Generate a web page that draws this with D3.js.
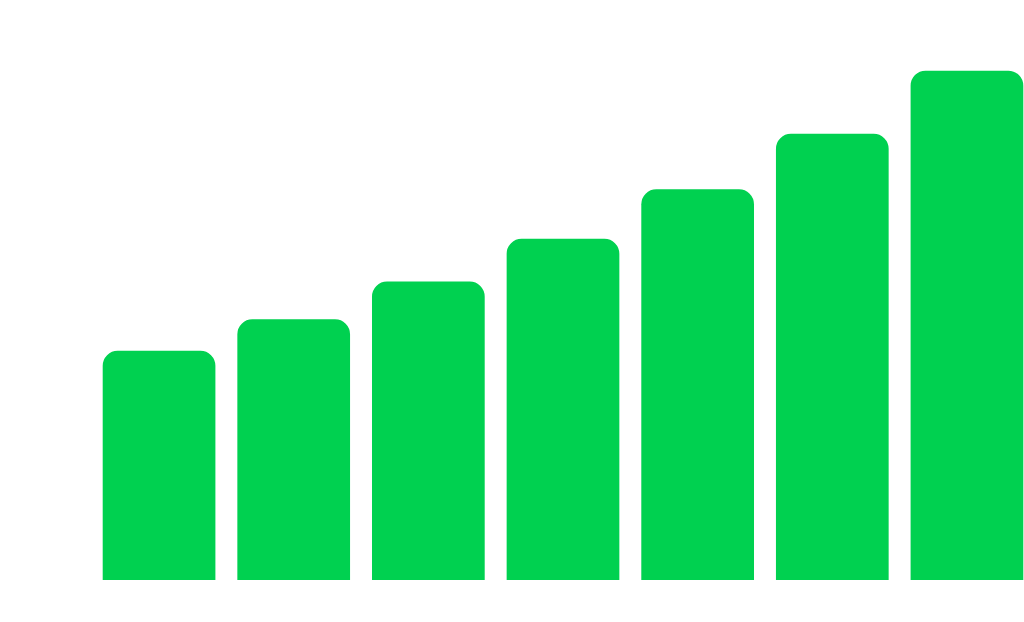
<!DOCTYPE html>
<html>
<head>
<meta charset="utf-8">
<script src="https://cdn.jsdelivr.net/npm/d3@7"></script>
<style>
  html, body { margin: 0; padding: 0; background: #fff; }
  svg { display: block; }
</style>
</head>
<body>
<svg id="chart" width="1024" height="622"></svg>
<script>
const categories = ["1", "2", "3", "4", "5", "6", "7"];
const values = [4.5, 5.12, 5.86, 6.7, 7.67, 8.76, 10];

const svg = d3.select("#chart");
const x = d3.scaleBand()
  .domain(categories)
  .range([102.7, 1023.3])
  .paddingInner(0.163)
  .paddingOuter(0);
const y = d3.scaleLinear().domain([0, 10]).range([580, 70.7]);

const r = 15;
function barPath(x0, y0, w, h) {
  const rr = Math.min(r, w / 2, h);
  return `M${x0},${y0 + h}` +
    `V${y0 + rr}` +
    `A${rr},${rr} 0 0 1 ${x0 + rr},${y0}` +
    `H${x0 + w - rr}` +
    `A${rr},${rr} 0 0 1 ${x0 + w},${y0 + rr}` +
    `V${y0 + h}Z`;
}

svg.selectAll("path.bar")
  .data(categories.map((c, i) => ({ c, v: values[i] })))
  .join("path")
  .attr("class", "bar")
  .attr("fill", "#00d150")
  .attr("d", d => barPath(x(d.c), y(d.v), x.bandwidth(), y(0) - y(d.v)));
</script>
</body>
</html>
